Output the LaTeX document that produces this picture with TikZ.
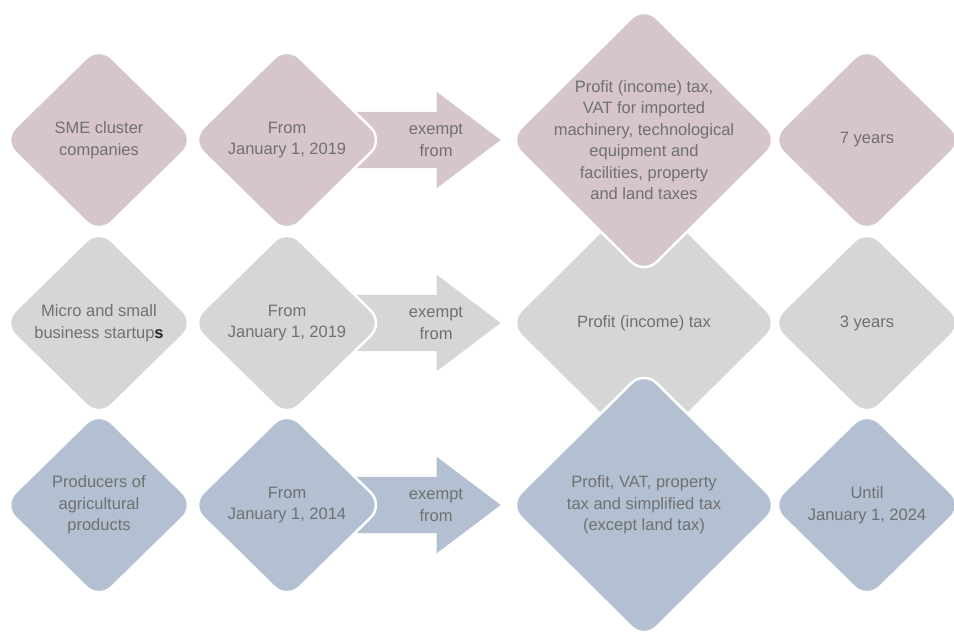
\documentclass[tikz,border=0pt]{standalone}
\usepackage{fontspec}
\setmainfont{Liberation Sans}
\usetikzlibrary{shapes.geometric, shapes.arrows}

\definecolor{rowpink}{RGB}{214,197,202}
\definecolor{rowgray}{RGB}{214,214,214}
\definecolor{rowblue}{RGB}{178,192,210}
\definecolor{txtgray}{RGB}{112,112,112}

\begin{document}
\begin{tikzpicture}[x=1pt, y=-1pt,
    txt/.style={align=center, text=txtgray, font=\fontsize{16.5}{21.5}\selectfont},
    box/.style={txt, diamond, rounded corners=18pt, draw=white, line width=2.5pt, inner sep=0pt},
    small/.style={box, minimum width=194pt, minimum height=190pt},
    big/.style={box, minimum width=272pt, minimum height=270pt},
    exempt/.style={single arrow, single arrow head extend=20pt, single arrow tip angle=74,
      minimum height=150pt, inner xsep=0pt, inner ysep=28pt, anchor=tip}]
  \useasboundingbox (0,0) rectangle (954,632);

  % row 2 goes first, the others overlap it
  \node[exempt, fill=rowgray] (arr2) at (501,323) {};
  \node[txt] (ex2) at (436,323) {exempt\\from};
  \node[small, fill=rowgray] (firm2) at (99,323) {Micro and small\\business startup{\color{black!85}\bfseries s}};
  \node[small, fill=rowgray] (from2) at (287,323) {From\\January 1, 2019};
  \node[big, fill=rowgray] (tax2) at (644,323) {Profit (income) tax};
  \node[small, fill=rowgray] (term2) at (867,323) {3 years};

  % row 1
  \node[exempt, fill=rowpink] (arr1) at (501,140) {};
  \node[txt] (ex1) at (436,140) {exempt\\from};
  \node[small, fill=rowpink] (firm1) at (99,140) {SME cluster\\companies};
  \node[small, fill=rowpink] (from1) at (287,140) {From\\January 1, 2019};
  \node[big, fill=rowpink, inner sep=-22pt] (tax1) at (644,140) {Profit (income) tax,\\VAT for imported\\machinery, technological\\equipment and\\facilities, property\\and land taxes};
  \node[small, fill=rowpink] (term1) at (867,140) {7 years};

  % row 3
  \node[exempt, fill=rowblue] (arr3) at (501,505) {};
  \node[txt] (ex3) at (436,505) {exempt\\from};
  \node[small, fill=rowblue] (firm3) at (99,505) {Producers of\\agricultural\\products};
  \node[small, fill=rowblue] (from3) at (287,505) {From\\January 1, 2014};
  \node[big, fill=rowblue] (tax3) at (644,505) {Profit, VAT, property\\tax and simplified tax\\(except land tax)};
  \node[small, fill=rowblue] (term3) at (867,505) {Until\\January 1, 2024};
\end{tikzpicture}
\end{document}
